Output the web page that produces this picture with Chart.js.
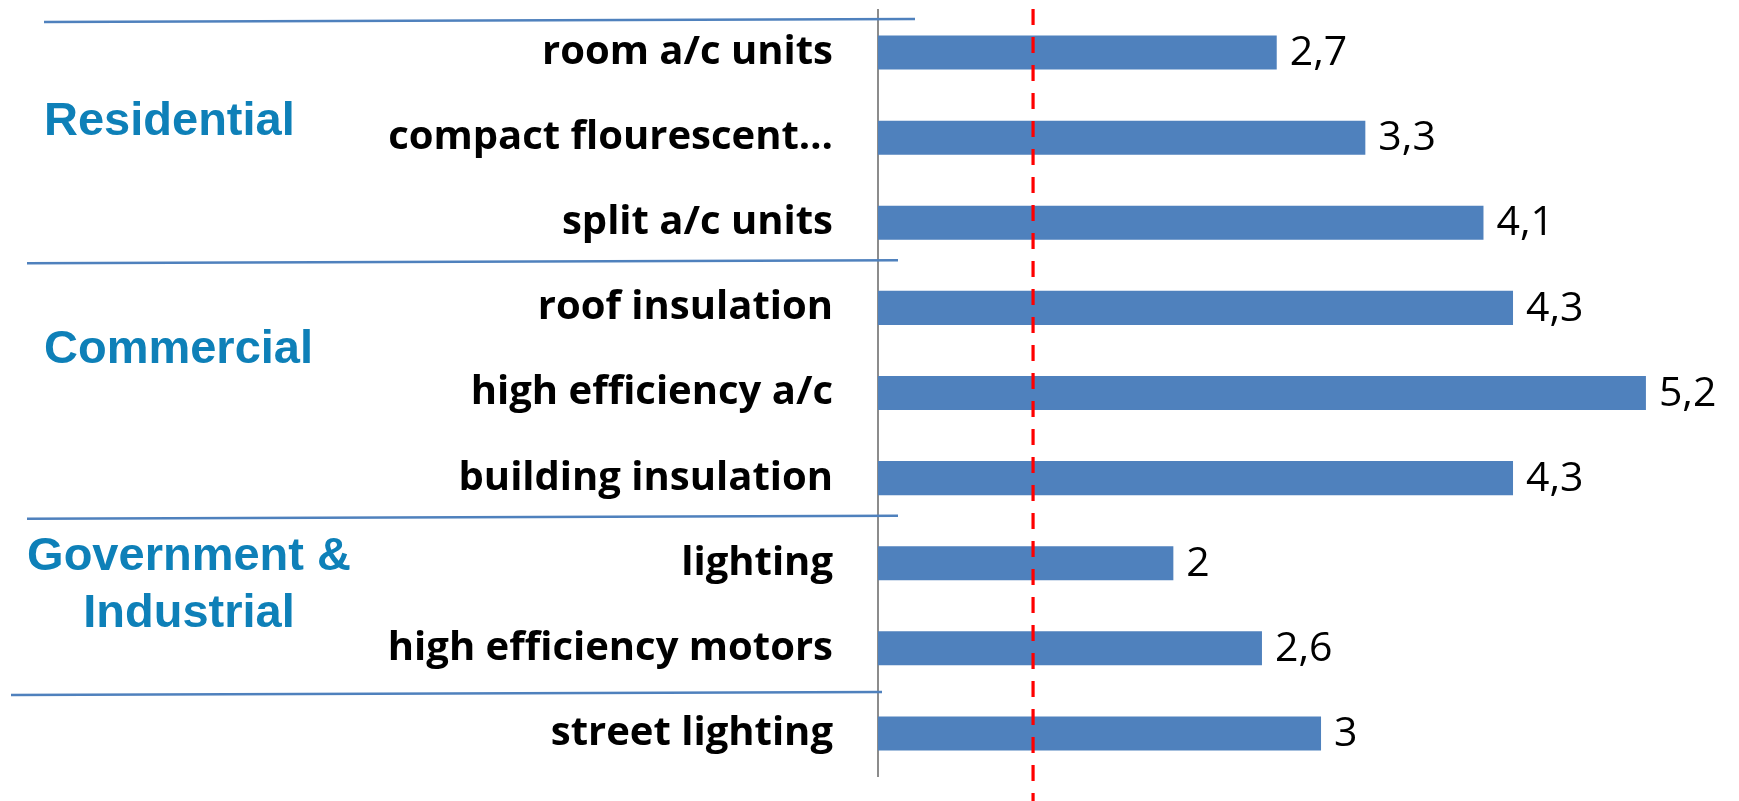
<!DOCTYPE html>
<html>
<head>
<meta charset="utf-8">
<script src="https://cdn.jsdelivr.net/npm/chart.js@4.4.1/dist/chart.umd.min.js"></script>
<style>
    html, body { margin: 0; padding: 0; background: #fff; }
    #wrap { position: relative; width: 1739px; height: 801px; }
</style>
</head>
<body>
<div id="wrap"><canvas id="bar-chart"></canvas></div>
<script>
var categories = ["room a/c units", "compact flourescent…", "split a/c units",
    "roof insulation", "high efficiency a/c", "building insulation",
    "lighting", "high efficiency motors", "street lighting"];
var values = [2.7, 3.3, 4.1, 4.3, 5.2, 4.3, 2.0, 2.6, 3.0];
var threshold = 1.05;
var xMax = 5.6;

// group names and the category boundary they sit above
var groups = [
    { lines: ["Residential"], align: "left" },
    { lines: ["Commercial"], align: "left" },
    { lines: ["Government &", "Industrial"], align: "center" }
];
var separators = [-0.5, 2.5, 5.5, 7.5];

var BAR_BLUE = "#4F81BD";
var GROUP_BLUE = "#0E80B8";

/*
*   value labels, group captions, separators and the dashed red marker
*/
var decorations = {
    id: 'decorations',
    beforeDatasetsDraw: function(chart) {
        var ctx = chart.ctx;
        var y = chart.scales.y;

        // separator lines on the left side
        var lineSpans = [[44, 915, 10], [27, 898, -4], [27, 898, -4], [11, 882, 2]];
        ctx.save();
        ctx.strokeStyle = BAR_BLUE;
        ctx.lineWidth = 2.5;
        for (var i = 0; i < separators.length; i++) {
            var py = y.getPixelForValue(separators[i]) + lineSpans[i][2];
            ctx.beginPath();
            ctx.moveTo(lineSpans[i][0], py + 2);
            ctx.lineTo(lineSpans[i][1], py - 1);
            ctx.stroke();
        }
        ctx.restore();
    },
    afterDatasetsDraw: function(chart) {
        var ctx = chart.ctx;
        var x = chart.scales.x;
        var meta = chart.getDatasetMeta(0);

        ctx.save();
        ctx.font = "41px 'Open Sans'";
        ctx.fillStyle = "#000";
        ctx.textAlign = "left";
        ctx.textBaseline = "middle";
        meta.data.forEach(function(bar, i) {
            var label = String(values[i]).replace('.', ',');
            ctx.fillText(label, bar.x + 13, bar.y + 1);
        });
        ctx.restore();

        // dashed red reference line
        var rx = x.getPixelForValue(threshold);
        ctx.save();
        ctx.strokeStyle = "#FF0000";
        ctx.lineWidth = 3.2;
        ctx.setLineDash([16, 12]);
        ctx.beginPath();
        ctx.moveTo(rx, 9);
        ctx.lineTo(rx, chart.height);
        ctx.stroke();
        ctx.restore();

        // group captions
        ctx.save();
        ctx.font = "bold 47px 'Liberation Sans'";
        ctx.fillStyle = GROUP_BLUE;
        ctx.textBaseline = "alphabetic";
        ctx.textAlign = "left";
        ctx.fillText(groups[0].lines[0], 44, 135);
        ctx.fillText(groups[1].lines[0], 44, 363);
        ctx.textAlign = "center";
        ctx.fillText(groups[2].lines[0], 189, 570);
        ctx.fillText(groups[2].lines[1], 189, 627);
        ctx.restore();
    }
};

var ctx = document.getElementById("bar-chart").getContext('2d');
var myChart = new Chart(ctx, {
    type: 'bar',
    data: {
        labels: categories,
        datasets: [{
            data: values,
            backgroundColor: BAR_BLUE,
            borderWidth: 0,
            barPercentage: 0.8,
            categoryPercentage: 0.5
        }]
    },
    options: {
        indexAxis: 'y',
        responsive: true,
        maintainAspectRatio: false,
        animation: false,
        layout: {
            padding: { top: 10, bottom: 25, left: 0, right: 34 }
        },
        plugins: {
            legend: { display: false },
            tooltip: { enabled: false }
        },
        scales: {
            x: {
                display: false,
                min: 0,
                max: xMax
            },
            y: {
                grid: { display: false },
                border: { display: true, color: "#8C8C8C", width: 2 },
                ticks: {
                    color: "#000",
                    padding: 37,
                    font: { family: "'Open Sans'", size: 40, weight: 'bold' }
                },
                afterFit: function(scale) {
                    scale.width = 878;
                    scale.paddingTop = 0;
                    scale.paddingBottom = 0;
                }
            }
        }
    },
    plugins: [decorations]
});
</script>
</body>
</html>
